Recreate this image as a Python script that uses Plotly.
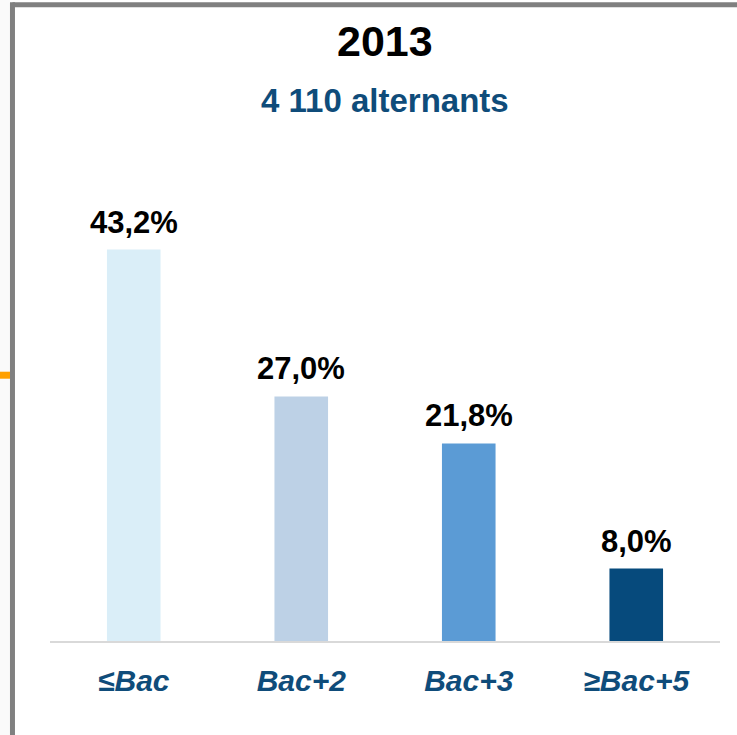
import plotly.graph_objects as go

categories = ["≤Bac", "Bac+2", "Bac+3", "≥Bac+5"]
values = [43.2, 27.0, 21.8, 8.0]
labels = ["43,2%", "27,0%", "21,8%", "8,0%"]
bar_colors = ["#daeef8", "#bdd1e6", "#5b9bd5", "#064a7c"]

blue = "#0f4c7a"
font = "Liberation Sans, Arial, sans-serif"

fig = go.Figure(go.Bar(
    x=categories,
    y=values,
    marker=dict(color=bar_colors, line=dict(width=0)),
    cliponaxis=False,
))

H = 452.5  # plot height in px
BASE = 641  # baseline in px

# value labels above the bars
annotations = [
    dict(x=c, y=v, text=f"<b>{t}</b>", showarrow=False, yanchor="bottom", yshift=8,
         font=dict(family=font, size=31, color="black"))
    for c, v, t in zip(categories, values, labels)
]
annotations += [
    dict(text="<b>2013</b>", xref="paper", yref="paper", x=0.5, y=(BASE - 42) / H,
         xanchor="center", yanchor="middle", showarrow=False,
         font=dict(family=font, size=43, color="black")),
    dict(text="<b>4 110 alternants</b>", xref="paper", yref="paper", x=0.5,
         y=(BASE - 101) / H, xanchor="center", yanchor="middle", showarrow=False,
         font=dict(family=font, size=33, color=blue)),
]

fig.update_layout(
    width=737, height=735,
    margin=dict(l=50, r=17, t=188, b=94),
    paper_bgcolor="white",
    plot_bgcolor="white",
    bargap=0.68,
    showlegend=False,
    xaxis=dict(
        showline=True, linecolor="#d9d9d9", linewidth=2,
        showgrid=False, ticks="", ticklabelstandoff=12,
        tickfont=dict(family=font, size=30, color=blue, weight="bold", style="italic"),
    ),
    yaxis=dict(range=[0, 50], visible=False),
    shapes=[
        # light strip at the far left
        dict(type="rect", xref="paper", yref="paper", x0=-0.075, x1=-0.0597, y0=-0.3, y1=1.42,
             fillcolor="#fafafa", line=dict(width=0), layer="below"),
        # grey frame
        dict(type="line", xref="paper", yref="paper", x0=-0.056, x1=1.05, y0=(BASE - 5.5) / H,
             y1=(BASE - 5.5) / H, line=dict(color="#808080", width=5)),
        dict(type="line", xref="paper", yref="paper", x0=-0.056, x1=-0.056, y0=-0.3,
             y1=(BASE - 3) / H, line=dict(color="#808080", width=5)),
        # orange tick
        dict(type="rect", xref="paper", yref="paper", x0=-0.075, x1=-0.0597,
             y0=(BASE - 379) / H, y1=(BASE - 372) / H,
             fillcolor="#ffa000", line=dict(width=0)),
    ],
    annotations=annotations,
)

fig.write_html("out.html", config={"displayModeBar": False},
               post_script="document.body.style.margin='0px';")
